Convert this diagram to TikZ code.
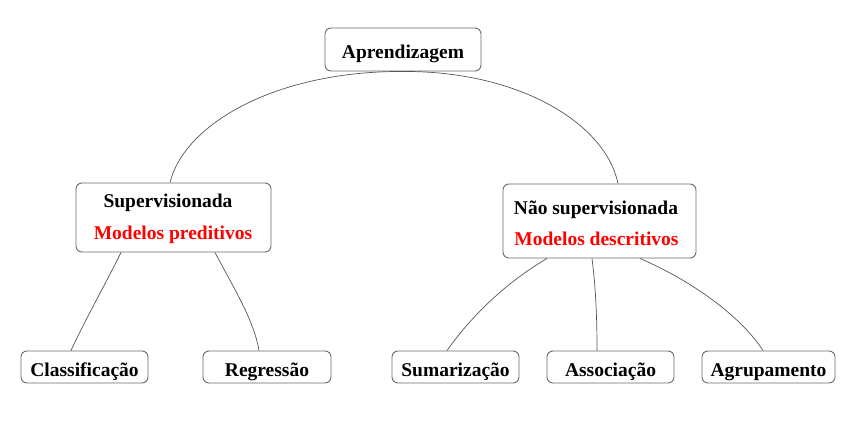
\documentclass[tikz,border=0pt]{standalone}
\usepackage{fontspec}
\setmainfont{Liberation Serif}
\definecolor{boxgray}{RGB}{105,105,105}
\definecolor{linegray}{RGB}{85,85,85}
\begin{document}
\begin{tikzpicture}[x=1pt,y=-1pt,
  box/.style={draw=boxgray,line width=0.9pt,rounded corners=6pt,inner sep=0pt,
    text height=18.5pt,text depth=0pt,
    font=\fontsize{19.5}{23}\selectfont\bfseries},
  lbl/.style={anchor=base,inner sep=0pt,font=\fontsize{19.5}{23}\selectfont\bfseries},
  red/.style={text=red},
  link/.style={draw=linegray,line width=0.7pt}]
\useasboundingbox (0,0) rectangle (851,425);
% nodes
\node[box,minimum width=156pt,minimum height=43pt] (apr) at (403,49.5) {Aprendizagem};
\node[box,minimum width=195pt,minimum height=69pt] (sup) at (173.5,217.5) {};
\node[box,minimum width=193pt,minimum height=74pt] (nao) at (599.5,221) {};
\node[lbl] (supt) at (168,207.5) {Supervisionada};
\node[lbl,red] (supm) at (173,239) {Modelos preditivos};
\node[lbl] (naot) at (596,214) {Não supervisionada};
\node[lbl,red] (naom) at (596.5,245) {Modelos descritivos};
\node[box,minimum width=127pt,minimum height=32pt] (cla) at (84.5,367) {Classificação};
\node[box,minimum width=128pt,minimum height=32pt] (reg) at (267,367) {Regressão};
\node[box,minimum width=127pt,minimum height=32pt] (sum) at (455.5,367) {Sumarização};
\node[box,minimum width=127pt,minimum height=32pt] (ass) at (610.5,367) {Associação};
\node[box,minimum width=133pt,minimum height=32pt] (agr) at (768.5,367) {Agrupamento};
% connectors
\draw[link] ([xshift=-3.5pt]sup.north) .. controls (184,125) and (274,71) .. (apr.south);
\draw[link] ([xshift=18.5pt]nao.north) .. controls (606,125) and (522,71) .. (apr.south);
\draw[link] ([xshift=-52.5pt]sup.south) .. controls (105,285) and (86,318) .. ([xshift=-13.5pt]cla.north);
\draw[link] ([xshift=41.5pt]sup.south) .. controls (232,285) and (254,320) .. ([xshift=-8pt]reg.north);
\draw[link] ([xshift=-52.5pt]nao.south) .. controls (507,282) and (472,315) .. ([xshift=-8.5pt]sum.north);
\draw[link] ([xshift=-7.5pt]nao.south) .. controls (596,290) and (597,320) .. ([xshift=-13.5pt]ass.north);
\draw[link] ([xshift=40.5pt]nao.south) .. controls (690,280) and (740,315) .. ([xshift=-5.5pt]agr.north);
\end{tikzpicture}
\end{document}
